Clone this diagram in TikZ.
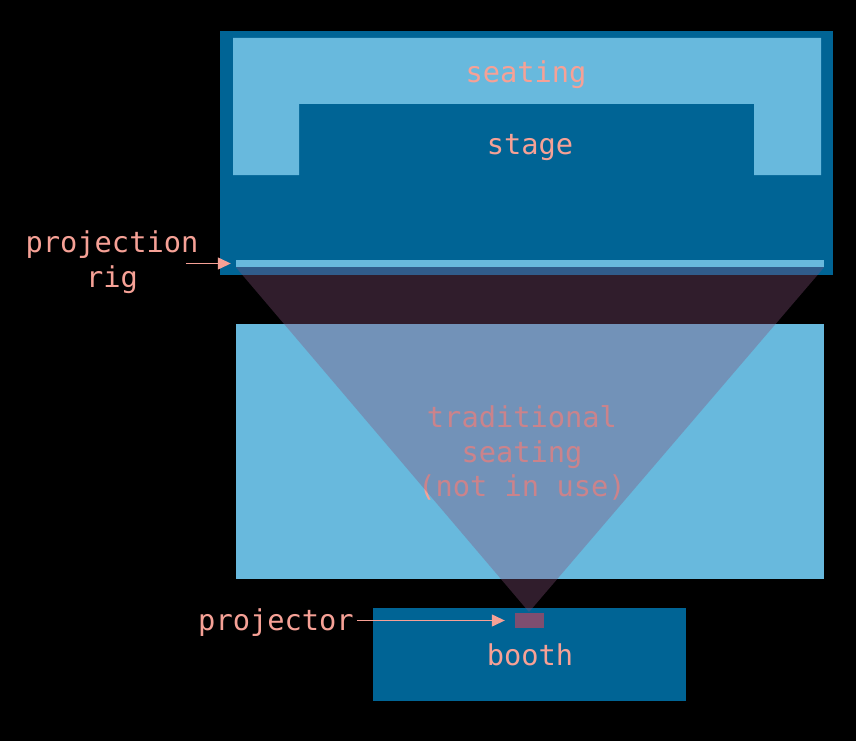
\documentclass[tikz,border=0pt]{standalone}
\usepackage{fontspec}
\setmonofont{DejaVu Sans Mono}
\usetikzlibrary{arrows.meta}
\definecolor{darkblue}{RGB}{0,100,149}
\definecolor{lightblue}{RGB}{104,185,221}
\definecolor{salmon}{RGB}{246,161,150}
\definecolor{beam}{RGB}{132,81,122}
\definecolor{projcol}{RGB}{126,78,112}
\tikzset{
  lbl/.style={text=salmon, font=\ttfamily\fontsize{28.7}{34.5}\selectfont, align=center, inner sep=3pt},
  darkarea/.style={fill=darkblue, draw=none},
  lightarea/.style={fill=lightblue, draw=none},
  pointer/.style={draw=salmon, line width=1.3pt, -{Triangle[length=13pt,width=12pt]}},
}
\begin{document}
\begin{tikzpicture}[x=1pt,y=-1pt]
\fill[black] (0,0) rectangle (856,741);
\useasboundingbox (0,0) rectangle (856,741);
% top block
\fill[darkarea] (220,31) rectangle (833,275);
\fill[lightarea] (233,38) -- (821,38) -- (821,175) -- (754,175) -- (754,104) -- (299,104) -- (299,175) -- (233,175) -- cycle;
\node[lbl] (seating) at (526,75) {seating};
\node[lbl] (stage) at (530,148) {stage};
\node[lightarea, minimum width=588pt, minimum height=7pt, inner sep=0pt] (rig) at (530,263.5) {};
% traditional seating
\node[lightarea, minimum width=588pt, minimum height=255pt, inner sep=0pt] (trad) at (530,451.5) {};
\node[lbl] (tradtext) at (522,453) {traditional\\seating\\(not in use)};
% booth
\node[darkarea, minimum width=313pt, minimum height=93pt, inner sep=0pt] (booth) at (529.5,654.5) {};
\node[lbl] (boothtext) at (530,655) {booth};
% projection beam
\coordinate (apex) at (529,612);
\fill[beam, fill opacity=0.37] (rig.south west) -- (rig.south east) -- (apex) -- cycle;
\node[fill=projcol, minimum width=29pt, minimum height=15pt, inner sep=0pt] (projector) at (529.5,620.5) {};
% labels
\node[lbl] (riglabel) at (112,262) {projection\\rig};
\coordinate (rigstart) at (186,263.5);
\draw[pointer, shorten >=5pt] (rigstart) -- (rig.west);
\node[lbl] (projlabel) at (276,623) {projector};
\draw[pointer, shorten >=10pt] (projlabel.east |- projector.west) -- (projector.west);
\end{tikzpicture}
\end{document}
